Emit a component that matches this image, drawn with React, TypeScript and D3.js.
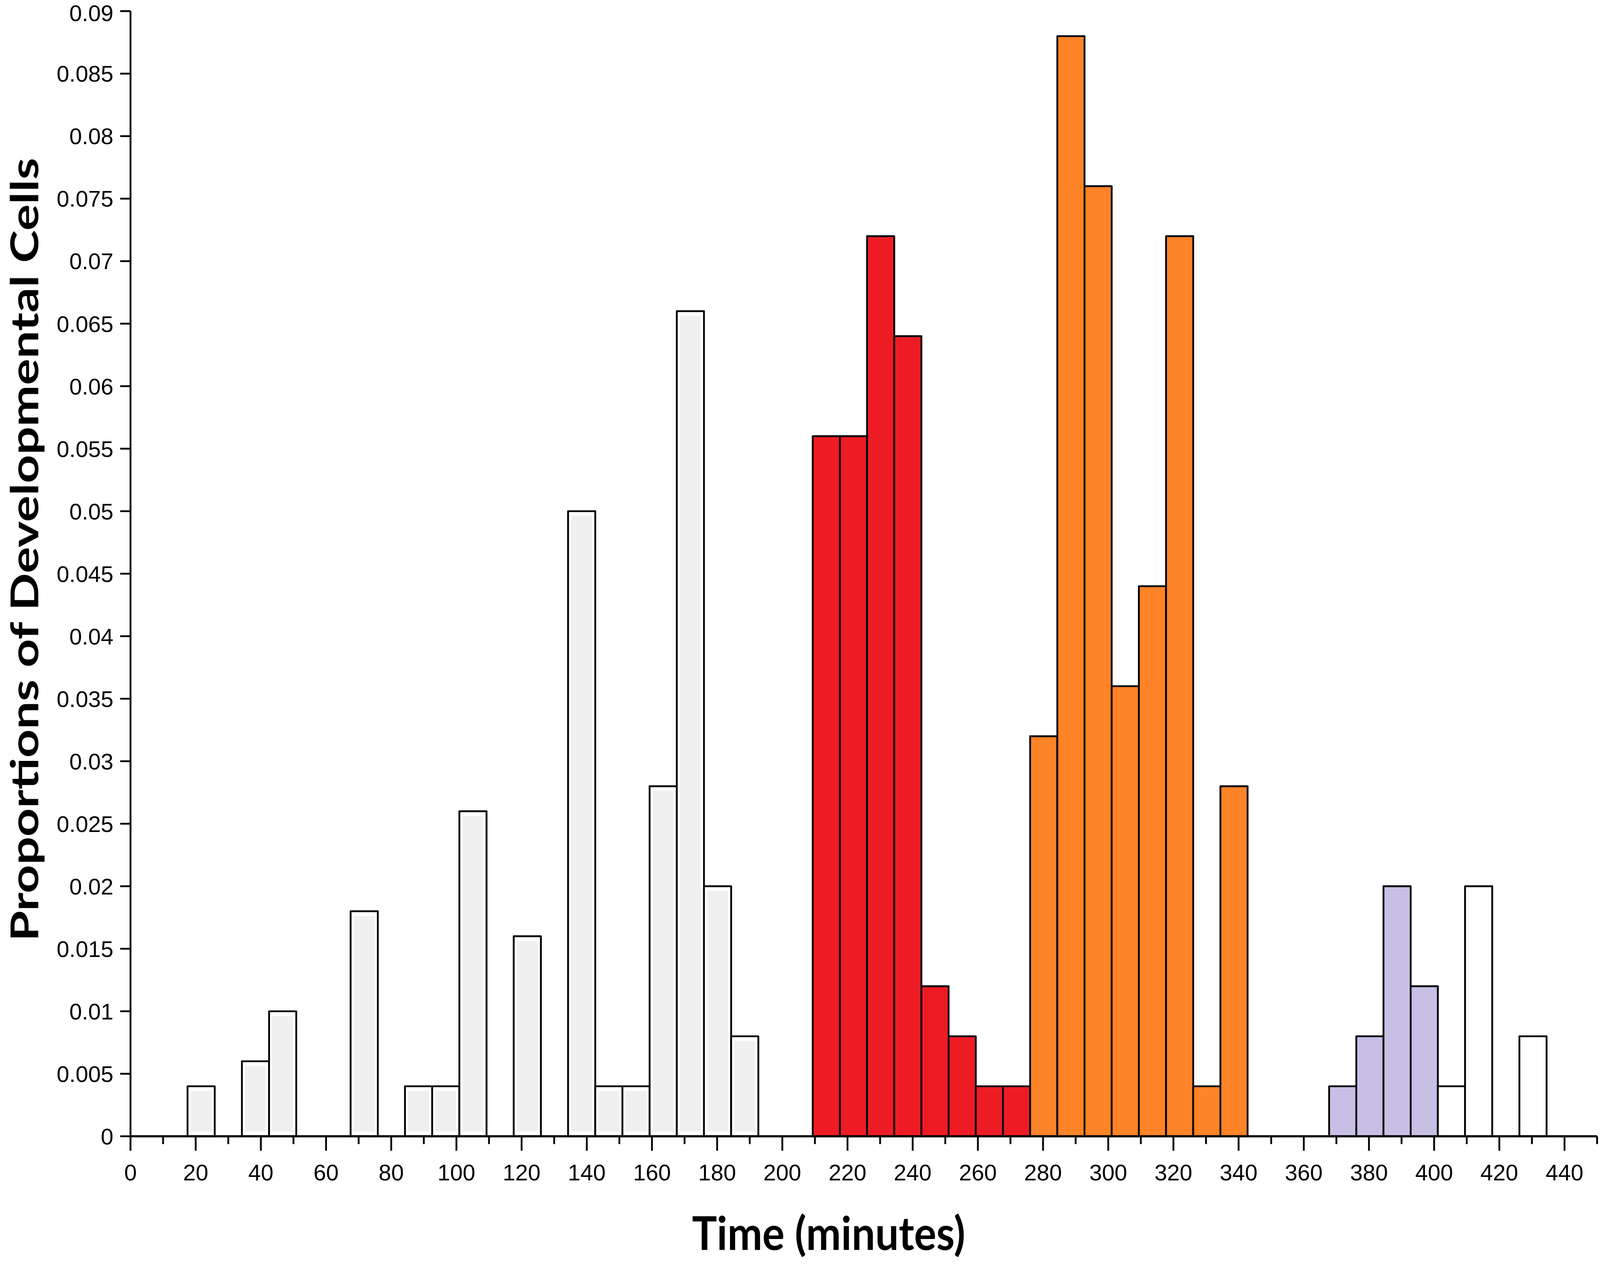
import React, { useEffect, useState } from "react";
import * as d3 from "d3";

// ---- data ----
const binStart = 17.5; // minutes, left edge of first bin
const binWidth = 8.34; // minutes per bin
const proportions = [
  0.004, 0, 0.006, 0.01, 0, 0, 0.018, 0, 0.004, 0.004,
  0.026, 0, 0.016, 0, 0.05, 0.004, 0.004, 0.028, 0.066, 0.02,
  0.008, 0, 0, 0.056, 0.056, 0.072, 0.064, 0.012, 0.008, 0.004,
  0.004, 0.032, 0.088, 0.076, 0.036, 0.044, 0.072, 0.004, 0.028, 0,
  0, 0, 0.004, 0.008, 0.02, 0.012, 0.004, 0.02, 0, 0.008,
];
const phases = [
  "pre", "pre", "pre", "pre", "pre", "pre", "pre", "pre", "pre", "pre",
  "pre", "pre", "pre", "pre", "pre", "pre", "pre", "pre", "pre", "pre",
  "pre", "pre", "pre", "red", "red", "red", "red", "red", "red", "red",
  "red", "orange", "orange", "orange", "orange", "orange", "orange", "orange", "orange", "orange",
  "purple", "purple", "purple", "purple", "purple", "purple", "post", "post", "post", "post",
];
const phaseColors: Record<string, string> = {
  pre: "#f0f0f0",
  red: "#ed1c24",
  orange: "#ff8327",
  purple: "#c8bfe7",
  post: "#ffffff",
};
const yTicks = [0, 0.005, 0.01, 0.015, 0.02, 0.025, 0.03, 0.035, 0.04, 0.045, 0.05, 0.055, 0.06, 0.065, 0.07, 0.075, 0.08, 0.085, 0.09];
const xMajorTicks = [0, 20, 40, 60, 80, 100, 120, 140, 160, 180, 200, 220, 240, 260, 280, 300, 320, 340, 360, 380, 400, 420, 440];
const xMinorTicks = [10, 30, 50, 70, 90, 110, 130, 150, 170, 190, 210, 230, 250, 270, 290, 310, 330, 350, 370, 390, 410, 430, 450];
const xTitle = "Time (minutes)";
const yTitle = "Proportions of Developmental Cells";

const REF_W = 4953;
const REF_H = 3236;

function useViewport() {
  const get = () => ({
    w: window.innerWidth || document.documentElement.clientWidth || REF_W,
    h: window.innerHeight || document.documentElement.clientHeight || REF_H,
  });
  const [size, setSize] = useState(get);
  useEffect(() => {
    const on = () => setSize(get());
    window.addEventListener("resize", on);
    return () => window.removeEventListener("resize", on);
  }, []);
  return size;
}

export default function App() {
  const { w: W, h: H } = useViewport();
  const sx = W / REF_W;
  const sy = H / REF_H;
  const sf = sy; // font scaling
  const X = (v: number) => v * sx;
  const Y = (v: number) => v * sy;

  const x = d3.scaleLinear().domain([0, 450]).range([X(404), X(4944)]);
  const y = d3.scaleLinear().domain([0, 0.09]).range([Y(2909), Y(28.5)]);
  const fmt = (v: number) => (v === 0 ? "0" : String(+v.toFixed(3)));
  const sw = 5 * Math.min(sx, sy) + 0.5;

  const bars = proportions
    .map((p, i) => ({ p, i, phase: phases[i], x0: binStart + i * binWidth, x1: binStart + (i + 1) * binWidth }))
    .filter((b) => b.p > 0);

  const tickFont = "'Liberation Sans', Arial, sans-serif";
  const titleFont = "Lato, 'Open Sans', sans-serif";
  const tickFs = 58 * sf;
  const yTitleFs = 118 * Math.min(sx, sy);

  return (
    <svg
      width={W}
      height={H}
      viewBox={`0 0 ${W} ${H}`}
      style={{ position: "fixed", left: 0, top: 0, display: "block", background: "#fff" }}
    >
      <rect x={0} y={0} width={W} height={H} fill="#fff" />
      {/* bars */}
      {bars.map((b) => {
        const bx = x(b.x0);
        const bw = x(b.x1) - x(b.x0);
        const by = y(b.p);
        const bh = y(0) - y(b.p);
        const isPre = b.phase === "pre";
        const ix = X(10);
        const iy = Y(12);
        return (
          <g key={b.i}>
            <rect x={bx} y={by} width={bw} height={bh} fill={isPre ? "#fff" : phaseColors[b.phase]} />
            {isPre && (
              <rect x={bx + ix} y={by + iy} width={bw - 2 * ix} height={bh - 2 * iy} fill={phaseColors[b.phase]} />
            )}
            <rect x={bx} y={by} width={bw} height={bh} fill="none" stroke="#000" strokeWidth={sw} strokeLinejoin="round" />
          </g>
        );
      })}
      {/* y axis */}
      <line x1={x(0)} x2={x(0)} y1={y(0)} y2={y(0.09)} stroke="#000" strokeWidth={sw} />
      {yTicks.map((t) => (
        <g key={"y" + t}>
          <line x1={x(0) - X(32)} x2={x(0)} y1={y(t)} y2={y(t)} stroke="#000" strokeWidth={sw} />
          <text
            x={X(351)}
            y={Math.max(y(t) + 0.36 * tickFs, 0.93 * tickFs)}
            textAnchor="end"
            fontFamily={tickFont}
            fontSize={tickFs}
            fill="#000"
          >
            {fmt(t)}
          </text>
        </g>
      ))}
      {/* x axis */}
      <line x1={x(0)} x2={x(450)} y1={y(0)} y2={y(0)} stroke="#000" strokeWidth={sw + 1} />
      {xMajorTicks.map((t) => (
        <g key={"xM" + t}>
          <line x1={x(t)} x2={x(t)} y1={y(0)} y2={y(0) + Y(37)} stroke="#000" strokeWidth={sw} />
          <text x={x(t)} y={Y(3022)} textAnchor="middle" fontFamily={tickFont} fontSize={tickFs} fill="#000">
            {t}
          </text>
        </g>
      ))}
      {xMinorTicks.map((t) => (
        <line key={"xm" + t} x1={x(t)} x2={x(t)} y1={y(0)} y2={y(0) + Y(20)} stroke="#000" strokeWidth={sw} />
      ))}
      {/* titles */}
      <text
        x={X(2565)}
        y={Y(3200)}
        textAnchor="middle"
        fontFamily={titleFont}
        fontWeight={700}
        fontSize={118 * sf}
        textLength={X(846)}
        lengthAdjust="spacingAndGlyphs"
        fill="#000"
      >
        {xTitle}
      </text>
      <text
        transform={`translate(${Math.max(X(100), 1.0 * yTitleFs)}, ${Y(1407)}) rotate(-90)`}
        textAnchor="middle"
        fontFamily={titleFont}
        fontWeight={700}
        fontSize={yTitleFs}
        textLength={Y(2006)}
        lengthAdjust="spacingAndGlyphs"
        fill="#000"
      >
        {yTitle}
      </text>
    </svg>
  );
}
